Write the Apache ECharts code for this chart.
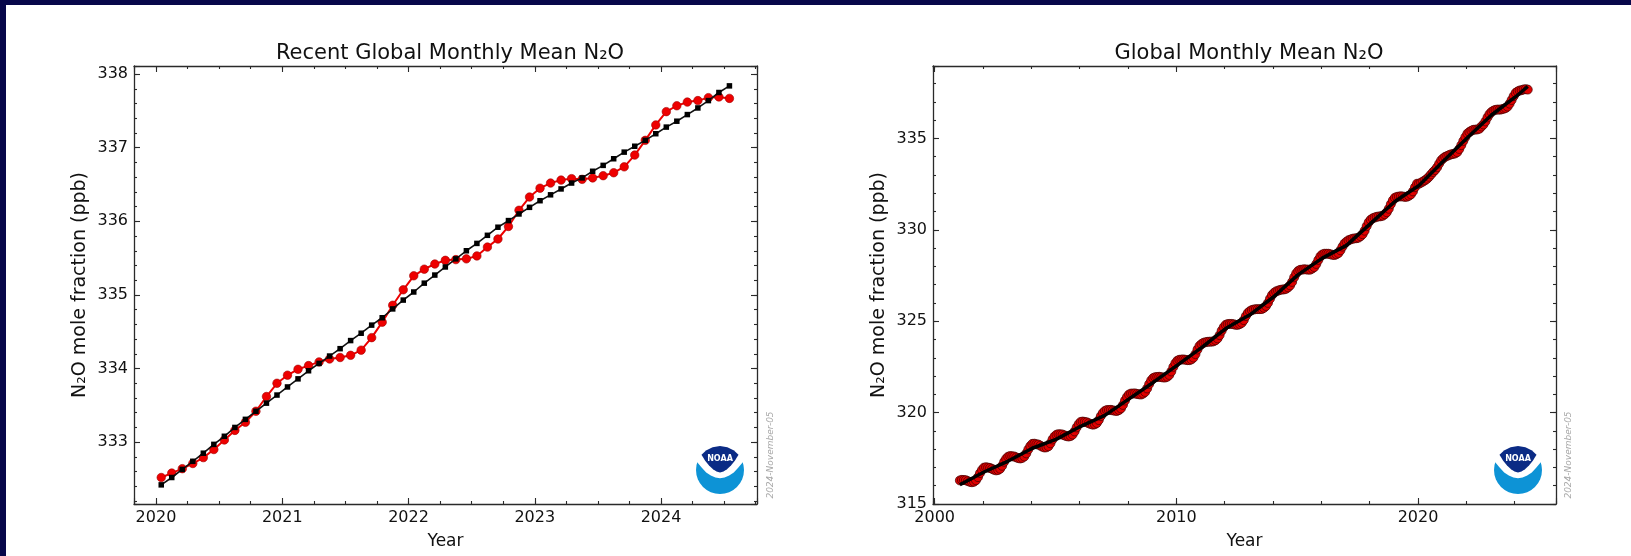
<!DOCTYPE html>
<html>
<head>
<meta charset="utf-8">
<script src="https://cdn.jsdelivr.net/npm/echarts@6/dist/echarts.min.js"></script>
<style>
html,body{margin:0;padding:0;background:#fff;width:1631px;height:556px;overflow:hidden;}
#topbar{position:absolute;left:0;top:0;width:1631px;height:5px;background:#07074a;}
#leftbar{position:absolute;left:0;top:0;width:6px;height:556px;background:#07074a;}
#chart{position:absolute;left:0;top:0;width:1631px;height:556px;}
</style>
</head>
<body>
<div id="topbar"></div><div id="leftbar"></div>
<div id="chart"></div>
<script>
// ---------------- data ----------------
const recentStartYear = 2020; // first month = Jan 2020, monthly
const recentMonthlyMean = [
  332.52, 332.58, 332.64, 332.71, 332.79, 332.90, 333.03, 333.16, 333.27, 333.42, 333.62, 333.80,
  333.91, 333.99, 334.04, 334.09, 334.13, 334.15, 334.18, 334.25, 334.42, 334.63, 334.86, 335.07,
  335.26, 335.35, 335.42, 335.47, 335.48, 335.49, 335.53, 335.65, 335.76, 335.93, 336.15, 336.33,
  336.45, 336.52, 336.56, 336.58, 336.57, 336.59, 336.62, 336.66, 336.74, 336.90, 337.10, 337.31,
  337.49, 337.57, 337.62, 337.64, 337.68, 337.69, 337.67
];
const recentTrend = [
  332.42, 332.52, 332.63, 332.74, 332.85, 332.97, 333.08, 333.20, 333.31, 333.42, 333.53, 333.64,
  333.75, 333.86, 333.97, 334.07, 334.17, 334.27, 334.38, 334.48, 334.59, 334.69, 334.81, 334.93,
  335.04, 335.16, 335.27, 335.38, 335.49, 335.60, 335.70, 335.81, 335.92, 336.01, 336.10, 336.19,
  336.28, 336.36, 336.44, 336.52, 336.59, 336.68, 336.76, 336.85, 336.94, 337.02, 337.10, 337.19,
  337.28, 337.36, 337.45, 337.54, 337.64, 337.75, 337.84
];
const longStartYear = 2001; // monthly from Jan 2001 to Dec 2019, then continues with recentMonthlyMean
const longMonthlyMean = [
  316.29, 316.32, 316.31, 316.30, 316.25, 316.21, 316.19, 316.22, 316.30, 316.47, 316.69, 316.87,
  316.99, 317.01, 316.99, 316.97, 316.92, 316.87, 316.84, 316.86, 316.93, 317.09, 317.31, 317.48,
  317.59, 317.62, 317.61, 317.60, 317.55, 317.51, 317.49, 317.52, 317.60, 317.77, 317.99, 318.17,
  318.29, 318.30, 318.27, 318.25, 318.19, 318.13, 318.09, 318.10, 318.16, 318.32, 318.53, 318.69,
  318.79, 318.82, 318.81, 318.80, 318.75, 318.71, 318.69, 318.72, 318.80, 318.97, 319.19, 319.37,
  319.49, 319.51, 319.49, 319.47, 319.42, 319.37, 319.34, 319.36, 319.43, 319.59, 319.81, 319.98,
  320.09, 320.14, 320.14, 320.15, 320.12, 320.10, 320.09, 320.14, 320.23, 320.42, 320.66, 320.86,
  320.99, 321.04, 321.04, 321.05, 321.02, 321.00, 320.99, 321.04, 321.13, 321.32, 321.56, 321.76,
  321.89, 321.94, 321.95, 321.96, 321.94, 321.92, 321.92, 321.96, 322.06, 322.25, 322.50, 322.70,
  322.84, 322.89, 322.90, 322.91, 322.89, 322.87, 322.87, 322.91, 323.01, 323.20, 323.45, 323.65,
  323.75, 323.82, 323.85, 323.87, 323.88, 323.88, 323.90, 323.96, 324.06, 324.24, 324.48, 324.67,
  324.80, 324.84, 324.85, 324.85, 324.83, 324.80, 324.80, 324.84, 324.91, 325.06, 325.28, 325.45,
  325.55, 325.61, 325.64, 325.66, 325.66, 325.66, 325.67, 325.73, 325.83, 326.00, 326.23, 326.43,
  326.55, 326.63, 326.67, 326.71, 326.73, 326.74, 326.77, 326.85, 326.96, 327.15, 327.40, 327.61,
  327.75, 327.81, 327.82, 327.84, 327.83, 327.82, 327.82, 327.88, 327.96, 328.13, 328.35, 328.54,
  328.65, 328.69, 328.69, 328.69, 328.66, 328.63, 328.62, 328.66, 328.73, 328.88, 329.08, 329.25,
  329.35, 329.43, 329.47, 329.51, 329.53, 329.54, 329.57, 329.65, 329.76, 329.95, 330.20, 330.41,
  330.55, 330.63, 330.67, 330.71, 330.73, 330.74, 330.77, 330.85, 330.96, 331.15, 331.40, 331.61,
  331.75, 331.80, 331.82, 331.83, 331.82, 331.80, 331.81, 331.86, 331.94, 332.10, 332.33, 332.52
];
const longTrendYear = [2001, 2002, 2003, 2004, 2005, 2006, 2007, 2008, 2009, 2010, 2011, 2012,
  2013, 2014, 2015, 2016, 2017, 2018, 2019, 2020, 2021, 2022, 2023, 2024, 2024.5];
const longTrend = [316.05, 316.75, 317.35, 318.05, 318.55, 319.25, 319.85, 320.75, 321.65, 322.60, 323.55, 324.60,
  325.35, 326.35, 327.55, 328.45, 329.15, 330.35, 331.55, 332.42, 333.75, 335.04, 336.28, 337.28, 337.84];

const titleLeft = 'Recent Global Monthly Mean N₂O';
const titleRight = 'Global Monthly Mean N₂O';
const yName = 'N₂O mole fraction (ppb)';
const xName = 'Year';
const stamp = '2024-November-05';

// ---------------- build ----------------
const FONT = 'DejaVu Sans';
const AX = '#2a2a2a';
const monthX = (startYear, i) => startYear + (i + 0.5) / 12;

const recentRed = recentMonthlyMean.map((v, i) => [monthX(recentStartYear, i), v]);
const recentBlack = recentTrend.map((v, i) => [monthX(recentStartYear, i), v]);
const longRed = longMonthlyMean.concat(recentMonthlyMean).map((v, i) => [monthX(longStartYear, i), v]);
const longBlack = longTrend.map((v, i) => [longTrendYear[i] + 1 / 24, v]);

const intLabel = v => (Math.abs(v - Math.round(v)) < 1e-6 ? String(Math.round(v)) : '');

const xAxes = [], yAxes = [];
function addAxes(g, xr, yr, xMaj, xMin, yMaj, yMin) {
  const base = {type: 'value', gridIndex: g, splitLine: {show: false}, scale: true};
  const mk = (range, interval, pos, isMajor, showLabel, extra) => Object.assign({}, base, {
    position: pos, min: range[0], max: range[1], minInterval: interval, maxInterval: interval, splitNumber: 6,
    axisLine: {show: isMajor, onZero: false, lineStyle: {color: AX, width: 1.3}},
    axisTick: {show: true, inside: true, length: isMajor ? 6 : 3, lineStyle: {color: AX, width: 1.1}},
    axisLabel: {show: showLabel, formatter: intLabel, fontFamily: FONT, fontSize: 16, color: '#111', margin: 6}
  }, extra || {});
  const xi = xAxes.length, yi = yAxes.length;
  xAxes.push(mk(xr, xMaj, 'bottom', true, true, {name: xName, nameLocation: 'middle', nameGap: 29,
    nameTextStyle: {fontFamily: FONT, fontSize: 17, color: '#111'}}));
  xAxes.push(mk(xr, xMin, 'bottom', false, false));
  xAxes.push(mk(xr, xMaj, 'top', true, false));
  xAxes.push(mk(xr, xMin, 'top', false, false));
  yAxes.push(mk(yr, yMaj, 'left', true, true, {name: yName, nameLocation: 'middle', nameGap: 44, nameRotate: 90,
    nameTextStyle: {fontFamily: FONT, fontSize: 19, color: '#111'}}));
  yAxes.push(mk(yr, yMin, 'left', false, false));
  yAxes.push(mk(yr, yMaj, 'right', true, false));
  yAxes.push(mk(yr, yMin, 'right', false, false));
  return {xi, yi};
}
const A = addAxes(0, [2019.826, 2024.76], [332.16, 338.11], 1, 0.25, 1, 0.2);
const B = addAxes(1, [1999.93, 2025.71], [315, 338.96], 10, 2, 5, 1);

function logo(cx, cy) {
  return {type: 'group', x: cx, y: cy, silent: true, children: [
    {type: 'circle', shape: {cx: 0, cy: 0, r: 24}, style: {fill: '#0d93d6'}},
    {type: 'polygon', shape: {points: [[-25, -8], [-25, -26], [25, -26], [25, -8], [23, -8], [18.4, -2.4], [13.8, 2.4],
      [9.2, 5.6], [4.6, 7.6], [0, 8.3], [-4.6, 7.6], [-9.2, 5.6], [-13.8, 2.4], [-18.4, -2.4], [-23, -8]]}, style: {fill: '#fff'}},
    {type: 'polygon', shape: {points: [[-18.5, -15.3], [-14, -19.5], [-7.4, -22.8], [0, -24], [7.4, -22.8], [14, -19.5], [18.5, -15.3],
      [15, -9.5], [11, -4.5], [7, -0.8], [3.5, 1.4], [0, 2.4], [-3.5, 1.4], [-7, -0.8], [-11, -4.5], [-15, -9.5]]},
      style: {fill: '#0b2b85'}},
    {type: 'text', x: 0, y: -11, style: {text: 'NOAA', fill: '#fff', font: 'bold 8px ' + FONT,
      align: 'center', verticalAlign: 'middle', textAlign: 'center', textVerticalAlign: 'middle'}}
  ]};
}
function stampText(x, y) {
  return {type: 'text', x: x, y: y, rotation: Math.PI / 2, silent: true,
    style: {text: stamp, fill: '#a8a8a8', font: 'italic 9px ' + FONT,
      align: 'center', verticalAlign: 'middle', textAlign: 'center', textVerticalAlign: 'middle'}};
}

const chart = echarts.init(document.getElementById('chart'), null, {renderer: 'canvas'});
chart.setOption({
  animation: false,
  backgroundColor: 'transparent',
  title: [
    {text: titleLeft, left: 445, top: 38, textAlign: 'center',
      textStyle: {fontFamily: FONT, fontSize: 21, fontWeight: 'normal', color: '#111'}},
    {text: titleRight, left: 1244, top: 38, textAlign: 'center',
      textStyle: {fontFamily: FONT, fontSize: 21, fontWeight: 'normal', color: '#111'}}
  ],
  grid: [
    {left: 134, top: 66, width: 623, height: 438},
    {left: 933, top: 66, width: 623, height: 438}
  ],
  xAxis: xAxes,
  yAxis: yAxes,
  series: [
    {type: 'line', xAxisIndex: A.xi, yAxisIndex: A.yi, data: recentRed, symbol: 'circle', symbolSize: 8.5,
      lineStyle: {color: '#ee0000', width: 2}, itemStyle: {color: '#ee0000', borderColor: '#a00000', borderWidth: 0.6}, silent: true, z: 3},
    {type: 'line', xAxisIndex: A.xi, yAxisIndex: A.yi, data: recentBlack, symbol: 'rect', symbolSize: 5.5,
      lineStyle: {color: '#111', width: 1.6}, itemStyle: {color: '#000'}, silent: true, z: 4},
    {type: 'line', xAxisIndex: B.xi, yAxisIndex: B.yi, data: longRed, symbol: 'circle', symbolSize: 9,
      lineStyle: {color: '#e00000', width: 1.5}, itemStyle: {color: '#e00000', borderColor: '#400000', borderWidth: 0.7}, silent: true, z: 3},
    {type: 'line', xAxisIndex: B.xi, yAxisIndex: B.yi, data: longBlack, showSymbol: false, symbol: 'none',
      lineStyle: {color: '#000', width: 3.5}, silent: true, z: 4}
  ],
  graphic: [
    logo(720, 470), logo(1518, 470),
    stampText(771, 455), stampText(1569, 455)
  ]
});
</script>
</body>
</html>
